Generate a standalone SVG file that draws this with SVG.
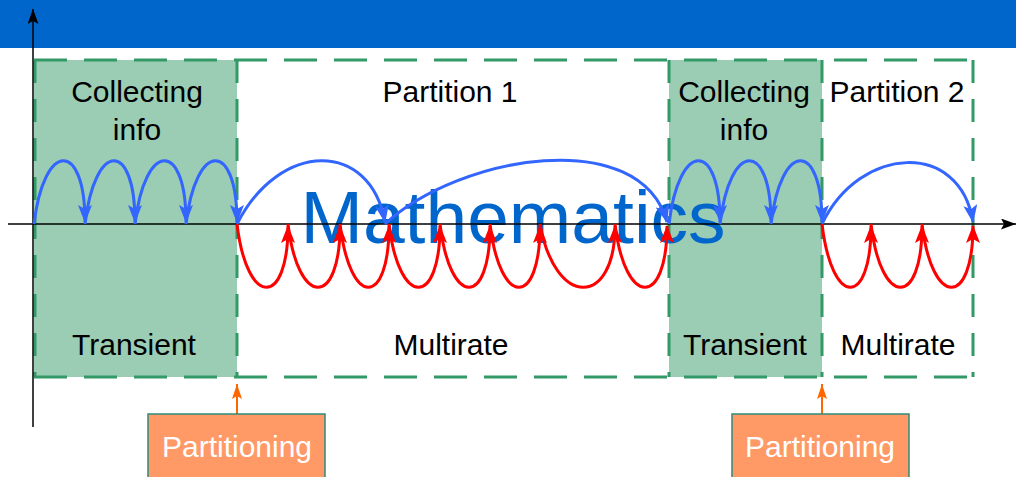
<svg xmlns="http://www.w3.org/2000/svg" width="1016" height="477" viewBox="0 0 1016 477">
<style>
.lbl{font-family:"Liberation Sans",Arial,sans-serif;font-size:30px;fill:#000;text-anchor:middle}
.plbl{font-family:"Liberation Sans",Arial,sans-serif;font-size:30px;fill:#fff;text-anchor:middle}
.dh{stroke:#339966;stroke-width:3;fill:none;stroke-dasharray:33 17}
.dv{stroke:#339966;stroke-width:3;fill:none;stroke-dasharray:23 16}
.blue{stroke:#3366FF;stroke-width:3;fill:none;marker-end:url(#ab)}
.red{stroke:#FF0000;stroke-width:3;fill:none;marker-end:url(#ar)}
.pbox{fill:#FF9966;stroke:#2E8B7A;stroke-width:1.5}
.oarr{stroke:#FF6600;stroke-width:2;marker-end:url(#ao)}
</style>
<defs>
<marker id="ab" markerUnits="userSpaceOnUse" markerWidth="18" markerHeight="14" viewBox="0 0 18 14" refX="17" refY="7" orient="auto"><path d="M0,0 L18,7 L0,14 L4,7 Z" fill="#3366FF"/></marker>
<marker id="ar" markerUnits="userSpaceOnUse" markerWidth="18" markerHeight="14" viewBox="0 0 18 14" refX="17" refY="7" orient="auto"><path d="M0,0 L18,7 L0,14 L4,7 Z" fill="#FF0000"/></marker>
<marker id="ao" markerUnits="userSpaceOnUse" markerWidth="15" markerHeight="10" viewBox="0 0 15 10" refX="15" refY="5" orient="auto"><path d="M0,0 L15,5 L0,10 L3,5 Z" fill="#FF6600"/></marker>
<marker id="ak" markerUnits="userSpaceOnUse" markerWidth="15" markerHeight="11" viewBox="0 0 15 11" refX="15" refY="5.5" orient="auto"><path d="M0,0 L15,5.5 L0,11 L3,5.5 Z" fill="#000"/></marker>
</defs>
<rect x="0" y="0" width="1016" height="48" fill="#0066CC"/>
<g id="phase-transient-1"><rect x="34" y="60" width="203" height="317" fill="#9BCCB4"/></g>
<g id="phase-transient-2"><rect x="669" y="60" width="153" height="317" fill="#9BCCB4"/></g>
<g id="outline">
<line class="dh" x1="34" y1="60" x2="973" y2="60"/>
<line class="dh" x1="34" y1="377" x2="973" y2="377"/>
<line class="dv" x1="35" y1="60" x2="35" y2="377"/>
<line class="dv" x1="237" y1="60" x2="237" y2="377"/>
<line class="dv" x1="669" y1="60" x2="669" y2="377"/>
<line class="dv" x1="822" y1="60" x2="822" y2="377"/>
<line class="dv" x1="973" y1="60" x2="973" y2="377"/>
</g>
<text x="513" y="243" font-family="Liberation Sans,Arial,sans-serif" font-size="75" fill="#0066CC" text-anchor="middle">Mathematics</text>
<g id="axes">
<line x1="8" y1="224" x2="1016" y2="224" stroke="#000" stroke-width="1.5" marker-end="url(#ak)"/>
<line x1="33" y1="427" x2="33" y2="9" stroke="#000" stroke-width="1.5" marker-end="url(#ak)"/>
</g>
<g id="connectors">
<path class="blue" d="M34 224 C44 140 85 140 85 222"/>
<path class="blue" d="M85 224 C95 140 135 140 135 222"/>
<path class="blue" d="M135 224 C145 140 186 140 186 222"/>
<path class="blue" d="M186 224 C196 140 237 140 237 222"/>
<path class="blue" d="M237 224 C280 140 370 140 385 222"/>
<path class="blue" d="M385 224 C460 155 640 125 667 222"/>
<path class="blue" d="M669 224 C679 140 720 140 720 222"/>
<path class="blue" d="M720 224 C730 140 771 140 771 222"/>
<path class="blue" d="M771 224 C781 140 822 140 822 222"/>
<path class="blue" d="M822 224 C860 145 960 140 973 222"/>
<path class="red" d="M237 224 C247 308 288 308 288 226"/>
<path class="red" d="M288 224 C298 308 340 308 340 226"/>
<path class="red" d="M340 224 C350 308 389 308 389 226"/>
<path class="red" d="M389 224 C399 308 440 308 440 226"/>
<path class="red" d="M440 224 C450 308 490 308 490 226"/>
<path class="red" d="M490 224 C500 308 540 308 540 226"/>
<path class="red" d="M540 224 C555 308 615 308 615 226"/>
<path class="red" d="M615 224 C625 308 667 308 667 226"/>
<path class="red" d="M822 224 C832 308 871 308 871 226"/>
<path class="red" d="M871 224 C881 308 922 308 922 226"/>
<path class="red" d="M922 224 C932 308 973 308 973 226"/>
<line class="oarr" x1="237" y1="414" x2="237" y2="384"/>
<line class="oarr" x1="822" y1="414" x2="822" y2="384"/>
</g>
<g id="labels">
<text class="lbl" x="137" y="102">Collecting</text>
<text class="lbl" x="137" y="140">info</text>
<text class="lbl" x="450" y="102">Partition 1</text>
<text class="lbl" x="744" y="102">Collecting</text>
<text class="lbl" x="744" y="140">info</text>
<text class="lbl" x="897" y="102">Partition 2</text>
<text class="lbl" x="134" y="355">Transient</text>
<text class="lbl" x="451" y="355">Multirate</text>
<text class="lbl" x="745" y="355">Transient</text>
<text class="lbl" x="898" y="355">Multirate</text>
</g>
<g id="partitioning-1"><rect class="pbox" x="148" y="414" width="177" height="70"/><text class="plbl" x="237" y="457">Partitioning</text></g>
<g id="partitioning-2"><rect class="pbox" x="732" y="414" width="177" height="70"/><text class="plbl" x="820" y="457">Partitioning</text></g>
</svg>
